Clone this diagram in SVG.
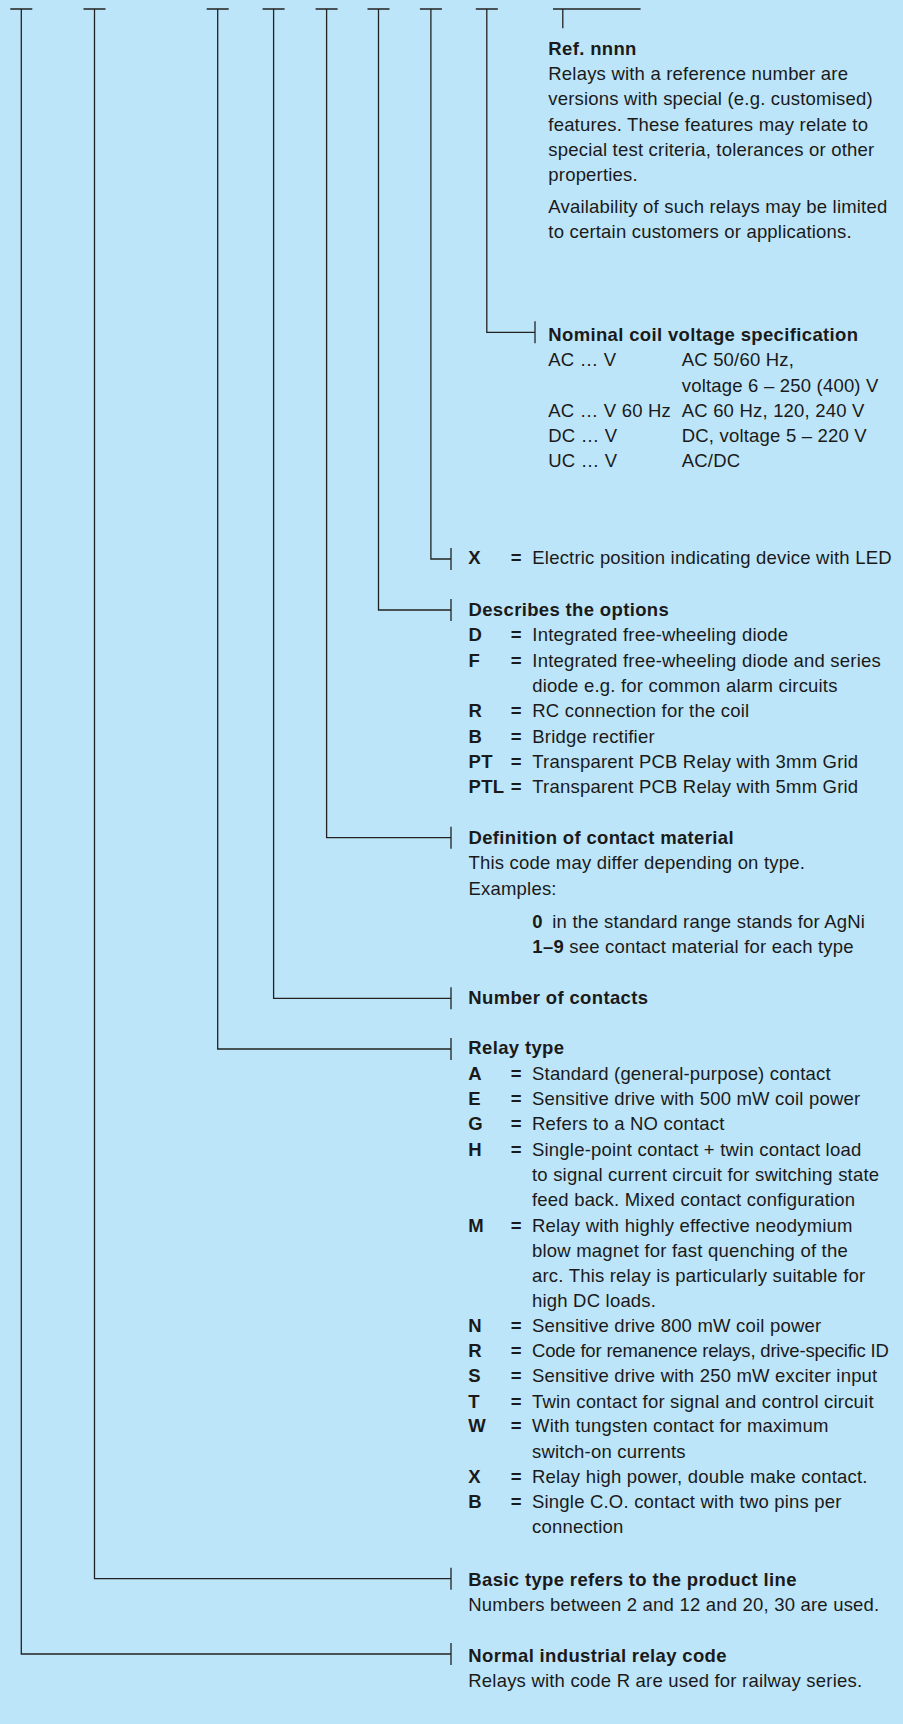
<svg xmlns="http://www.w3.org/2000/svg" width="903" height="1724" viewBox="0 0 903 1724">
<style>
text{font-family:"Liberation Sans",Arial,sans-serif;font-size:18.5px;fill:#1a1a1a;letter-spacing:0.2px}
.b{font-weight:bold;letter-spacing:0.35px}
.ln{fill:none;stroke:#222;stroke-width:1.3}
</style>
<rect x="0" y="0" width="903" height="1724" fill="#bde5f9"/>
<g id="connectors">
<path class="ln" d="M10.3 9H32.3M21.3 9V1654H451M451 1643V1665"/>
<path class="ln" d="M83.5 9H105.5M94.5 9V1578.7H451M451 1567.7V1589.7"/>
<path class="ln" d="M206.7 9H228.7M217.7 9V1049H451M451 1038V1060"/>
<path class="ln" d="M262.6 9H284.6M273.6 9V998.3H451M451 987.3V1009.3"/>
<path class="ln" d="M315.6 9H337.6M326.6 9V837.7H451M451 826.7V848.7"/>
<path class="ln" d="M367.5 9H389.5M378.5 9V610H451M451 599V621"/>
<path class="ln" d="M419.9 9H441.9M430.9 9V559H451M451 548V570"/>
<path class="ln" d="M475.8 9H497.8M486.8 9V332.3H535M535 321.3V343.3"/>
<path class="ln" d="M553 9H640.6M562.8 9V28.3"/>
</g>
<g id="ref">
<text class="b" x="548.3" y="55">Ref. nnnn</text>
<text x="548.3" y="80">Relays with a reference number are</text>
<text x="548.3" y="105">versions with special (e.g. customised)</text>
<text x="548.3" y="130.7">features. These features may relate to</text>
<text x="548.3" y="156">special test criteria, tolerances or other</text>
<text x="548.3" y="181">properties.</text>
<text x="548.3" y="213.3">Availability of such relays may be limited</text>
<text x="548.3" y="238.3">to certain customers or applications.</text>
</g>
<g id="nominal">
<text class="b" x="548.3" y="340.7">Nominal coil voltage specification</text>
<text x="548.3" y="365.7">AC … V</text><text x="681.7" y="365.7">AC 50/60 Hz,</text>
<text x="681.7" y="391.7">voltage 6 – 250 (400) V</text>
<text x="548.3" y="416.7">AC … V 60 Hz</text><text x="681.7" y="416.7">AC 60 Hz, 120, 240 V</text>
<text x="548.3" y="441.7">DC … V</text><text x="681.7" y="441.7">DC, voltage 5 – 220 V</text>
<text x="548.3" y="466.7">UC … V</text><text x="681.7" y="466.7">AC/DC</text>
</g>
<g id="led">
<text class="b" x="468.3" y="564.3">X</text><text class="b" x="510.8" y="564.3">=</text><text x="532.3" y="564.3">Electric position indicating device with LED</text>
</g>
<g id="options">
<text class="b" x="468.5" y="615.7">Describes the options</text>
<text class="b" x="468.5" y="641">D</text><text class="b" x="510.8" y="641">=</text><text x="532.3" y="641">Integrated free-wheeling diode</text>
<text class="b" x="468.5" y="667">F</text><text class="b" x="510.8" y="667">=</text><text x="532.3" y="667">Integrated free-wheeling diode and series</text>
<text x="532.3" y="692">diode e.g. for common alarm circuits</text>
<text class="b" x="468.5" y="717">R</text><text class="b" x="510.8" y="717">=</text><text x="532.3" y="717">RC connection for the coil</text>
<text class="b" x="468.5" y="742.5">B</text><text class="b" x="510.8" y="742.5">=</text><text x="532.3" y="742.5">Bridge rectifier</text>
<text class="b" x="468.5" y="767.7">PT</text><text class="b" x="510.8" y="767.7">=</text><text x="532.3" y="767.7">Transparent PCB Relay with 3mm Grid</text>
<text class="b" x="468.5" y="792.7">PTL</text><text class="b" x="510.8" y="792.7">=</text><text x="532.3" y="792.7">Transparent PCB Relay with 5mm Grid</text>
</g>
<g id="material">
<text class="b" x="468.5" y="844">Definition of contact material</text>
<text x="468.5" y="869">This code may differ depending on type.</text>
<text x="468.5" y="895">Examples:</text>
<text class="b" x="532.3" y="928.3">0</text><text x="552.3" y="928.3">in the standard range stands for AgNi</text>
<text class="b" x="532.3" y="953.3">1–9</text><text x="569.3" y="953.3">see contact material for each type</text>
</g>
<g id="contacts">
<text class="b" x="468.3" y="1004">Number of contacts</text>
</g>
<g id="relaytype">
<text class="b" x="468.3" y="1054">Relay type</text>
<text class="b" x="468.3" y="1080">A</text><text class="b" x="510.8" y="1080">=</text><text x="532" y="1080">Standard (general-purpose) contact</text>
<text class="b" x="468.3" y="1105">E</text><text class="b" x="510.8" y="1105">=</text><text x="532" y="1105">Sensitive drive with 500 mW coil power</text>
<text class="b" x="468.3" y="1130">G</text><text class="b" x="510.8" y="1130">=</text><text x="532" y="1130">Refers to a NO contact</text>
<text class="b" x="468.3" y="1155.7">H</text><text class="b" x="510.8" y="1155.7">=</text><text x="532" y="1155.7">Single-point contact + twin contact load</text>
<text x="532" y="1181">to signal current circuit for switching state</text>
<text x="532" y="1206">feed back. Mixed contact configuration</text>
<text class="b" x="468.3" y="1231.7">M</text><text class="b" x="510.8" y="1231.7">=</text><text x="532" y="1231.7">Relay with highly effective neodymium</text>
<text x="532" y="1256.7">blow magnet for fast quenching of the</text>
<text x="532" y="1282">arc. This relay is particularly suitable for</text>
<text x="532" y="1307">high DC loads.</text>
<text class="b" x="468.3" y="1332.3">N</text><text class="b" x="510.8" y="1332.3">=</text><text x="532" y="1332.3">Sensitive drive 800 mW coil power</text>
<text class="b" x="468.3" y="1357">R</text><text class="b" x="510.8" y="1357">=</text><text x="532" y="1357" textLength="357" lengthAdjust="spacing">Code for remanence relays, drive-specific ID</text>
<text class="b" x="468.3" y="1382">S</text><text class="b" x="510.8" y="1382">=</text><text x="532" y="1382">Sensitive drive with 250 mW exciter input</text>
<text class="b" x="468.3" y="1407.7">T</text><text class="b" x="510.8" y="1407.7">=</text><text x="532" y="1407.7">Twin contact for signal and control circuit</text>
<text class="b" x="468.3" y="1432.3">W</text><text class="b" x="510.8" y="1432.3">=</text><text x="532" y="1432.3">With tungsten contact for maximum</text>
<text x="532" y="1457.7">switch-on currents</text>
<text class="b" x="468.3" y="1482.7">X</text><text class="b" x="510.8" y="1482.7">=</text><text x="532" y="1482.7">Relay high power, double make contact.</text>
<text class="b" x="468.3" y="1507.7">B</text><text class="b" x="510.8" y="1507.7">=</text><text x="532" y="1507.7">Single C.O. contact with two pins per</text>
<text x="532" y="1533">connection</text>
</g>
<g id="basictype">
<text class="b" x="468.3" y="1586">Basic type refers to the product line</text>
<text x="468.3" y="1611">Numbers between 2 and 12 and 20, 30 are used.</text>
</g>
<g id="industrial">
<text class="b" x="468.3" y="1661.7">Normal industrial relay code</text>
<text x="468.3" y="1686.7">Relays with code R are used for railway series.</text>
</g>
</svg>
